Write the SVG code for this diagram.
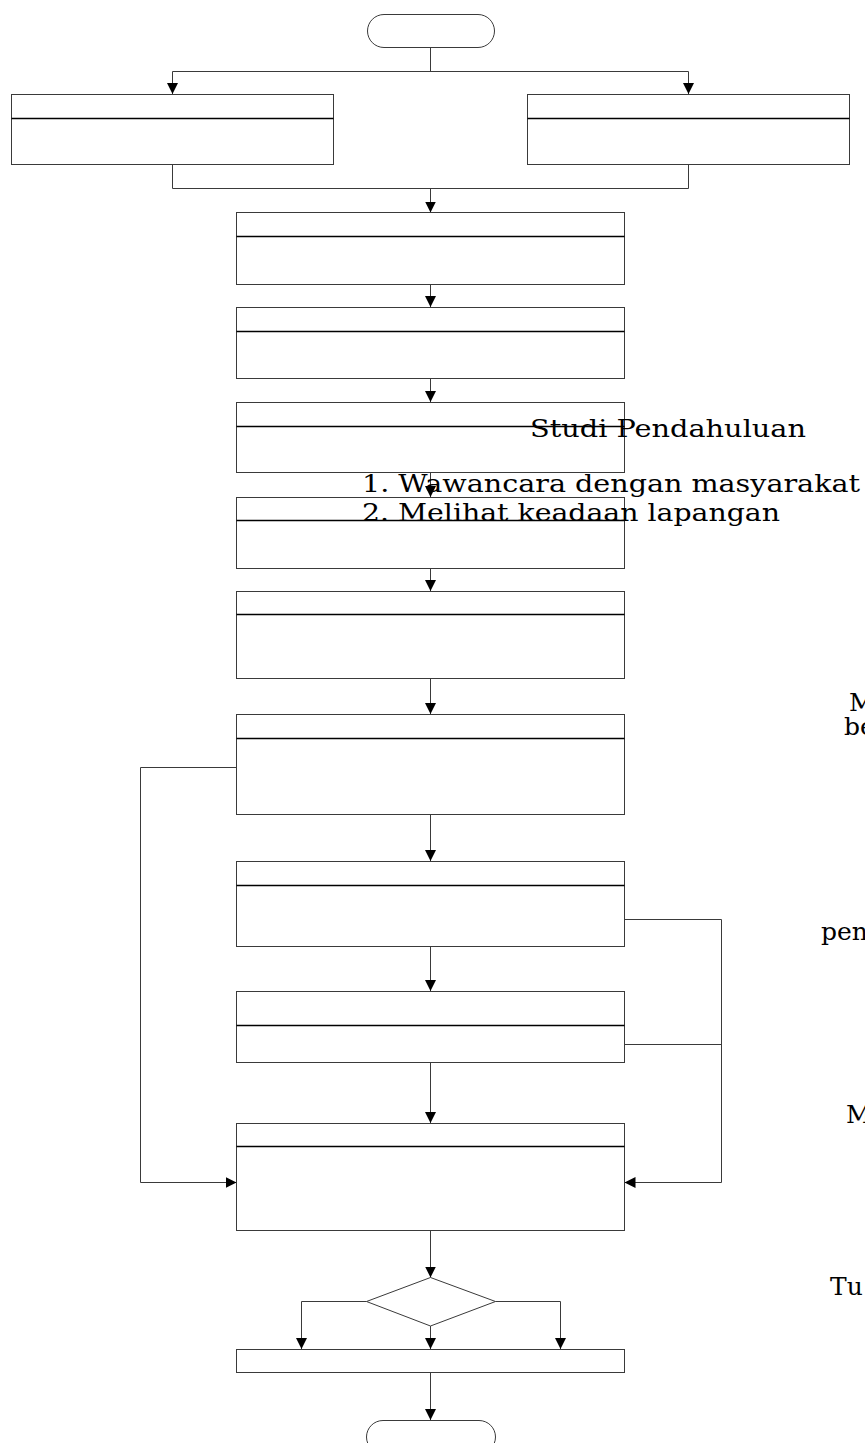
<svg xmlns="http://www.w3.org/2000/svg" width="865" height="1443" viewBox="0 0 865 1443">
<defs>
<style>
.box{fill:#fff;stroke:#3a3a3a;stroke-width:1}
.div{stroke:#000;stroke-width:1.3}
.ln{fill:none;stroke:#3a3a3a;stroke-width:1}
.t{font-family:"DejaVu Serif","Liberation Serif",serif;font-size:25px;fill:#000}
</style>
<marker id="ah" markerUnits="userSpaceOnUse" markerWidth="11" markerHeight="11" refX="11" refY="5.5" orient="auto" viewBox="0 0 11 11">
<path d="M0,0 L11,5.5 L0,11 z" fill="#000"/>
</marker>
</defs>
<rect width="865" height="1443" fill="#fff"/>

<g id="connectors">
<path class="ln" d="M430.5,47 V71.5 M172.5,71.5 H688.5"/>
<path class="ln" d="M172.5,71.5 V94" marker-end="url(#ah)"/>
<path class="ln" d="M688.5,71.5 V94" marker-end="url(#ah)"/>
<path class="ln" d="M172.5,164 V188.5 H688.5 V164"/>
<path class="ln" d="M430.5,188.5 V212.5" marker-end="url(#ah)"/>
<path class="ln" d="M430.5,284 V307" marker-end="url(#ah)"/>
<path class="ln" d="M430.5,379 V402" marker-end="url(#ah)"/>
<path class="ln" d="M430.5,473 V497" marker-end="url(#ah)"/>
<path class="ln" d="M430.5,568 V591" marker-end="url(#ah)"/>
<path class="ln" d="M430.5,678 V714" marker-end="url(#ah)"/>
<path class="ln" d="M430.5,814 V861" marker-end="url(#ah)"/>
<path class="ln" d="M430.5,946 V991" marker-end="url(#ah)"/>
<path class="ln" d="M430.5,1063 V1123" marker-end="url(#ah)"/>
<path class="ln" d="M236.5,767.5 H140.5 V1182.5 H236.5" marker-end="url(#ah)"/>
<path class="ln" d="M624.5,919.5 H721.5 V1182.5 H624.5" marker-end="url(#ah)"/>
<path class="ln" d="M624.5,1044.5 H721.5"/>
<path class="ln" d="M430.5,1231 V1277.5" marker-end="url(#ah)"/>
<path class="ln" d="M366.5,1301.5 H301.5 V1349" marker-end="url(#ah)"/>
<path class="ln" d="M495.5,1301.5 H560.5 V1349" marker-end="url(#ah)"/>
<path class="ln" d="M430.5,1326 V1349" marker-end="url(#ah)"/>
<path class="ln" d="M430.5,1373 V1420" marker-end="url(#ah)"/>
</g>

<g id="start"><rect class="box" x="367.5" y="14.5" width="127" height="33" rx="16.5"/></g>
<g id="box-left"><rect class="box" x="11.5" y="94.5" width="322" height="70"/><line class="div" x1="11.5" y1="118.5" x2="333.5" y2="118.5"/></g>
<g id="box-right"><rect class="box" x="527.5" y="94.5" width="322" height="70"/><line class="div" x1="527.5" y1="118.5" x2="849.5" y2="118.5"/></g>
<g id="box1"><rect class="box" x="236.5" y="212.5" width="388" height="72"/><line class="div" x1="236.5" y1="236.5" x2="624.5" y2="236.5"/></g>
<g id="box2"><rect class="box" x="236.5" y="307.5" width="388" height="71"/><line class="div" x1="236.5" y1="331.5" x2="624.5" y2="331.5"/></g>
<g id="box3"><rect class="box" x="236.5" y="402.5" width="388" height="70"/><line class="div" x1="236.5" y1="426.5" x2="624.5" y2="426.5"/></g>
<g id="box4"><rect class="box" x="236.5" y="497.5" width="388" height="71"/><line class="div" x1="236.5" y1="520.5" x2="624.5" y2="520.5"/></g>
<g id="box5"><rect class="box" x="236.5" y="591.5" width="388" height="87"/><line class="div" x1="236.5" y1="614.5" x2="624.5" y2="614.5"/></g>
<g id="box6"><rect class="box" x="236.5" y="714.5" width="388" height="100"/><line class="div" x1="236.5" y1="738.5" x2="624.5" y2="738.5"/></g>
<g id="box7"><rect class="box" x="236.5" y="861.5" width="388" height="85"/><line class="div" x1="236.5" y1="885.5" x2="624.5" y2="885.5"/></g>
<g id="box8"><rect class="box" x="236.5" y="991.5" width="388" height="71"/><line class="div" x1="236.5" y1="1025.5" x2="624.5" y2="1025.5"/></g>
<g id="box9"><rect class="box" x="236.5" y="1123.5" width="388" height="107"/><line class="div" x1="236.5" y1="1146.5" x2="624.5" y2="1146.5"/></g>
<g id="decision"><polygon class="box" points="430.5,1277.5 495.5,1301.5 430.5,1326 366.5,1301.5"/></g>
<g id="box10"><rect class="box" x="236.5" y="1349.5" width="388" height="23"/></g>
<g id="end"><rect class="box" x="366.5" y="1420.5" width="129" height="33" rx="16.5"/></g>

<g id="labels">
<text class="t" x="530" y="437" textLength="276" lengthAdjust="spacingAndGlyphs">Studi Pendahuluan</text>
<text class="t" x="362" y="492" textLength="498" lengthAdjust="spacingAndGlyphs">1. Wawancara dengan masyarakat</text>
<text class="t" x="362" y="521" textLength="418" lengthAdjust="spacingAndGlyphs">2. Melihat keadaan lapangan</text>
<text class="t" x="849" y="711">M</text>
<text class="t" x="844" y="735">be</text>
<text class="t" x="821" y="940">pen</text>
<text class="t" x="846" y="1123">M</text>
<text class="t" x="830" y="1295">Tu</text>
</g>
</svg>
